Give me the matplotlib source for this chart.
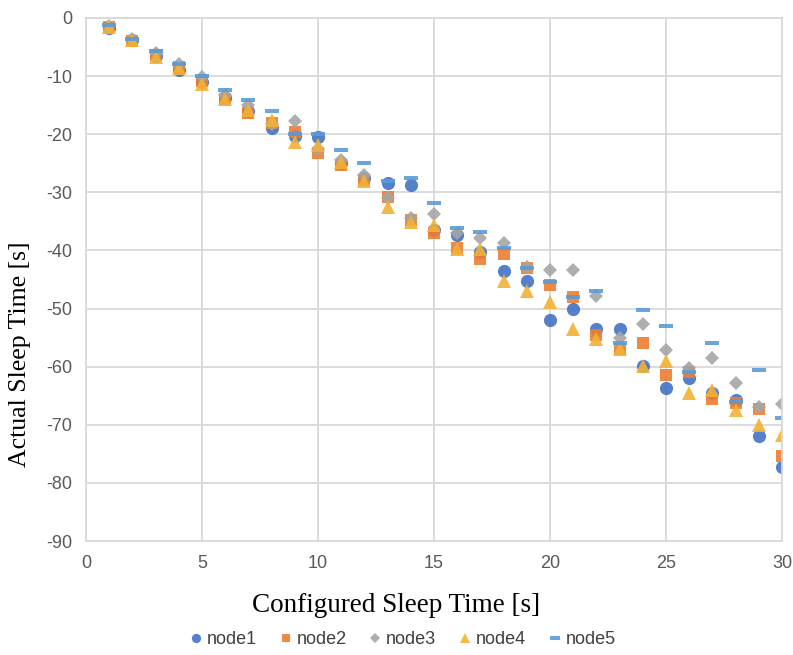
import numpy as np
import matplotlib.pyplot as plt
from matplotlib.path import Path

plt.rcParams["axes.unicode_minus"] = False

# configured sleep time [s]
sleep_set = list(range(1, 31))

node1 = [-1.8, -3.8, -6.6, -8.9, -11.0, -13.8, -16.0, -19.0, -20.3, -20.5,
         -25.0, -27.5, -28.4, -28.7, -36.5, -37.3, -40.3, -43.6, -45.2, -52.0,
         -50.1, -53.6, -53.5, -59.8, -63.6, -62.0, -64.5, -65.8, -72.0, -77.2]
node2 = [-1.5, -3.9, -6.3, -8.5, -10.8, -14.0, -16.3, -18.0, -19.6, -23.3,
         -25.3, -27.8, -30.8, -34.8, -37.0, -39.6, -41.5, -40.6, -43.0, -46.0,
         -48.0, -54.5, -57.0, -56.0, -61.4, -61.0, -65.5, -66.3, -67.2, -75.4]
node3 = [-1.3, -3.7, -6.0, -7.9, -10.2, -13.2, -15.0, -18.3, -17.8, -22.5,
         -24.5, -27.0, -31.0, -34.5, -33.8, -37.0, -37.8, -38.8, -42.8, -43.3,
         -43.3, -47.8, -55.0, -52.7, -57.1, -60.3, -58.5, -62.8, -67.0, -66.4]
node4 = [-1.6, -3.8, -6.8, -8.6, -11.3, -14.0, -15.8, -17.6, -21.3, -21.9,
         -24.8, -28.0, -32.5, -35.1, -35.6, -39.8, -39.8, -45.2, -47.0, -48.8,
         -53.6, -55.2, -57.0, -59.8, -59.1, -64.6, -64.1, -67.5, -70.0, -71.8]
node5 = [-1.2, -3.6, -5.7, -8.0, -10.0, -12.4, -14.2, -16.0, -20.0, -19.9,
         -22.8, -25.0, -28.0, -27.6, -31.9, -36.2, -36.8, -39.5, -43.0, -45.5,
         -48.0, -47.0, -56.0, -50.2, -53.0, -61.0, -55.9, -66.0, -60.6, -68.9]

labels = ["node1", "node2", "node3", "node4", "node5"]
colors = ["#4472C4", "#ED7D31", "#A5A5A5", "#F2B134", "#5B9BD5"]

dash = Path([(-1, -0.36), (1, -0.36), (1, 0.36), (-1, 0.36), (-1, -0.36)],
            [Path.MOVETO, Path.LINETO, Path.LINETO, Path.LINETO, Path.CLOSEPOLY])
markers = ["o", "s", "D", "^", dash]
sizes = [9.5, 8.5, 7.5, 10, 9.5]

fig = plt.figure(figsize=(7.93, 6.55), dpi=100)
ax = fig.add_axes([0.1084, 0.174, 0.8777, 0.7986])

for ys, lab, c, m, s in zip([node1, node2, node3, node4, node5],
                            labels, colors, markers, sizes):
    ax.plot(sleep_set, ys, linestyle="none", marker=m, markersize=s,
            color=c, markeredgewidth=0, alpha=0.9, label=lab)

ax.set_xlim(0, 30)
ax.set_ylim(-90, 0)
ax.set_xticks(np.arange(0, 31, 5))
ax.set_yticks(np.arange(-90, 1, 10))
ax.grid(True, color="#D9D9D9", linewidth=1.3)
ax.set_axisbelow(True)
for sp in ax.spines.values():
    sp.set_color("#D9D9D9")
    sp.set_linewidth(1.3)
ax.tick_params(length=0, labelsize=13, labelcolor="#595959", pad=10)
for t in ax.get_xticklabels() + ax.get_yticklabels():
    t.set_fontfamily("Liberation Sans")

ax.set_xlabel("Configured Sleep Time [s]", fontfamily="Liberation Serif",
              fontsize=19.5, va="center")
ax.xaxis.set_label_coords(0.446, -0.123)
ax.set_ylabel("Actual Sleep Time [s]", fontfamily="Liberation Serif",
              fontsize=18.5, va="center")
ax.yaxis.set_label_coords(-0.095, 0.358)

leg = fig.legend(loc="center", bbox_to_anchor=(0.505, 0.023), ncol=5,
                 frameon=False, handletextpad=0.0, columnspacing=1.0,
                 handlelength=1.2, markerscale=0.7,
                 prop={"family": "Liberation Sans", "size": 13})
for t in leg.get_texts():
    t.set_color("#404040")

fig.savefig("out.png", dpi=100)
